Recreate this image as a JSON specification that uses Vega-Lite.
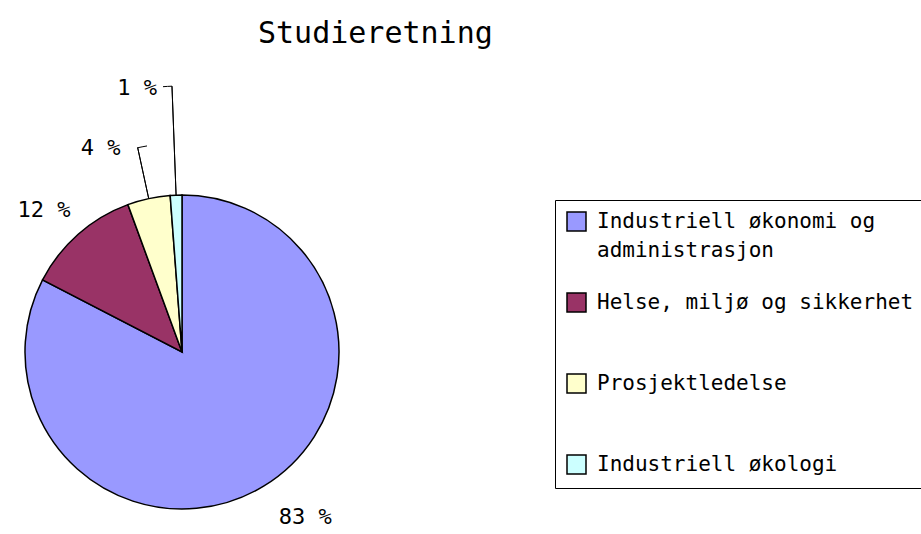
{
  "$schema": "https://vega.github.io/schema/vega-lite/v6.json",
  "autosize": {"type": "none"},
  "width": 364,
  "height": 364,
  "padding": {"left": 0, "top": 170, "right": 557, "bottom": 0},
  "background": "white",
  "config": {"view": {"stroke": null}, "font": "DejaVu Sans Mono"},
  "title": {"text": "Studieretning", "frame": "group", "anchor": "start", "dx": 258, "offset": 4, "baseline": "alphabetic", "font": "DejaVu Sans Mono", "fontSize": 30, "fontWeight": "normal", "color": "black"},
  "data": {"values": [
    {"cat": "Industriell økonomi og administrasjon", "v": 82.6, "nr": 1, "label": "83 %"},
    {"cat": "Helse, miljø og sikkerhet", "v": 11.8, "nr": 2, "label": "12 %"},
    {"cat": "Prosjektledelse", "v": 4.4, "nr": 3, "label": "4 %"},
    {"cat": "Industriell økologi", "v": 1.2, "nr": 4, "label": "1 %"}
  ]},
  "encoding": {
    "theta": {"field": "v", "type": "quantitative", "stack": true},
    "order": {"field": "nr", "type": "quantitative"}
  },
  "layer": [
    {
      "mark": {"type": "arc", "outerRadius": 157, "stroke": "black", "strokeWidth": 1.5},
      "encoding": {
        "color": {"field": "cat", "type": "nominal",
          "scale": {"domain": ["Industriell økonomi og administrasjon", "Helse, miljø og sikkerhet", "Prosjektledelse", "Industriell økologi"],
                    "range": ["#9999FF", "#993366", "#FFFFCC", "#CCFFFF"]},
          "legend": {"orient": "none", "legendX": 555, "legendY": 30, "title": null,
            "strokeColor": "black", "padding": 11, "fillColor": "white",
            "labelFont": "DejaVu Sans Mono", "labelFontSize": 21, "labelColor": "black", "labelLimit": 400,
            "labelOffset": 10, "symbolType": "square", "symbolSize": 361, "symbolStrokeColor": "black", "symbolStrokeWidth": 1.5, "symbolOpacity": 1,
            "rowPadding": 29, "gridAlign": "all",
            "encode": {"labels": {"update": {"lineHeight": {"value": 29}}}},
            "labelExpr": "datum.label === 'Industriell økonomi og administrasjon' ? ['Industriell økonomi og', 'administrasjon'] : datum.label"}
        }
      }
    },
    {
      "mark": {"type": "arc", "radius": 209, "radius2": 157, "padAngle": 3, "filled": false, "strokeWidth": 1},
      "encoding": {"detail": {"field": "cat"}, "color": {"value": "black"},
        "opacity": {"condition": {"test": "datum.nr === 3", "value": 1}, "value": 0}}
    },
    {
      "mark": {"type": "arc", "radius": 209, "radius2": 209, "filled": false, "strokeWidth": 1, "strokeDash": [10, 2000], "strokeDashOffset": 1990.6},
      "encoding": {"detail": {"field": "cat"}, "color": {"value": "black"},
        "opacity": {"condition": {"test": "datum.nr === 3", "value": 1}, "value": 0}}
    },
    {
      "mark": {"type": "arc", "radius": 266, "radius2": 157, "padAngle": 3, "filled": false, "strokeWidth": 1},
      "encoding": {"detail": {"field": "cat"}, "color": {"value": "black"},
        "opacity": {"condition": {"test": "datum.nr === 4", "value": 1}, "value": 0}}
    },
    {
      "mark": {"type": "arc", "radius": 266, "radius2": 266, "filled": false, "strokeWidth": 1, "strokeDash": [9, 2000], "strokeDashOffset": 1999},
      "encoding": {"detail": {"field": "cat"}, "color": {"value": "black"},
        "opacity": {"condition": {"test": "datum.nr === 4", "value": 1}, "value": 0}}
    },
    {
      "mark": {"type": "text", "radius": 193, "dx": 23, "font": "DejaVu Sans Mono", "fontSize": 22},
      "encoding": {"detail": {"field": "cat"}, "text": {"field": "label"}, "color": {"value": "black"},
        "opacity": {"condition": {"test": "datum.nr === 1", "value": 1}, "value": 0}}
    },
    {
      "mark": {"type": "text", "radius": 189, "dx": -13, "font": "DejaVu Sans Mono", "fontSize": 22},
      "encoding": {"detail": {"field": "cat"}, "text": {"field": "label"}, "color": {"value": "black"},
        "opacity": {"condition": {"test": "datum.nr === 2", "value": 1}, "value": 0}}
    },
    {
      "mark": {"type": "text", "radius": 209, "dx": -37, "font": "DejaVu Sans Mono", "fontSize": 22},
      "encoding": {"detail": {"field": "cat"}, "text": {"field": "label"}, "color": {"value": "black"},
        "opacity": {"condition": {"test": "datum.nr === 3", "value": 1}, "value": 0}}
    },
    {
      "mark": {"type": "text", "radius": 264, "dx": -35, "font": "DejaVu Sans Mono", "fontSize": 22},
      "encoding": {"detail": {"field": "cat"}, "text": {"field": "label"}, "color": {"value": "black"},
        "opacity": {"condition": {"test": "datum.nr === 4", "value": 1}, "value": 0}}
    }
  ]
}
